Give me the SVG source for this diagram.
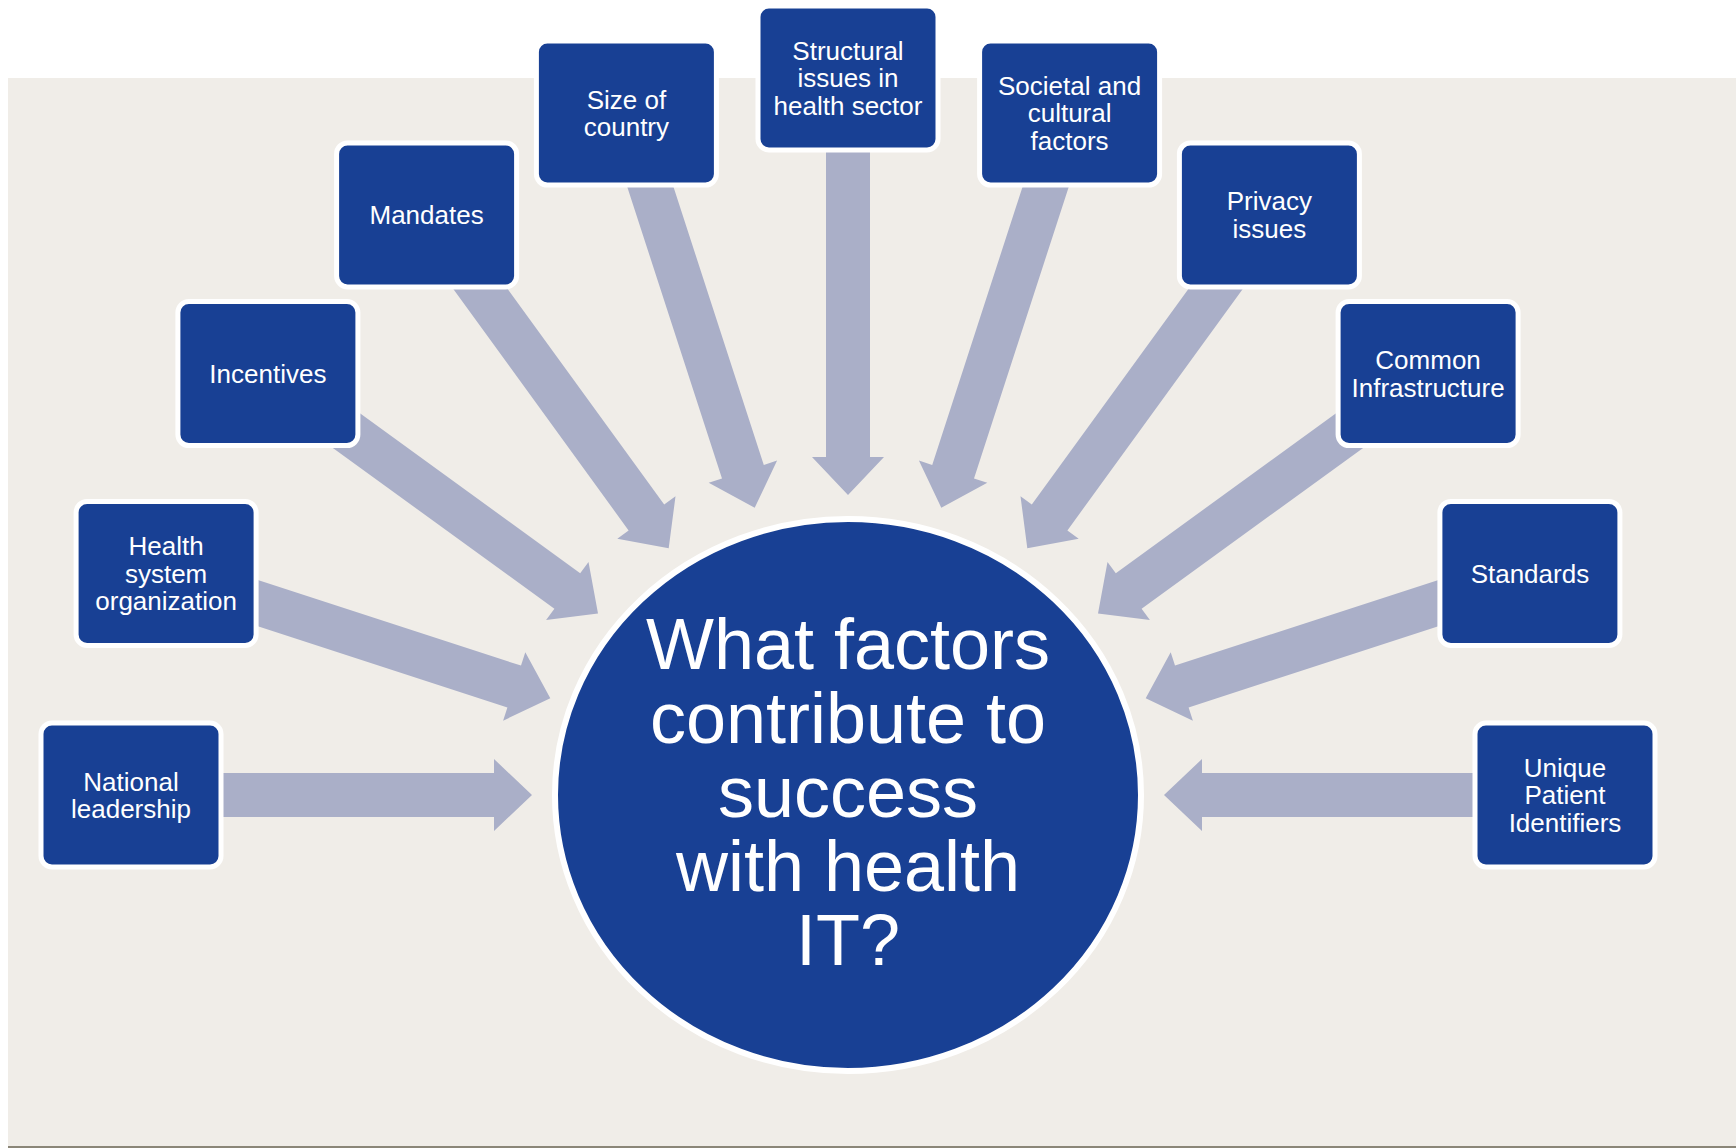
<svg xmlns="http://www.w3.org/2000/svg" width="1736" height="1148" viewBox="0 0 1736 1148">
<style>
.box{fill:#184094;stroke:#ffffff;stroke-width:5}
.lbl{font-family:"Liberation Sans",Arial,sans-serif;font-size:26px;fill:#ffffff;text-anchor:middle}
.big{font-family:"Liberation Sans",Arial,sans-serif;font-size:72px;fill:#ffffff;text-anchor:middle}
.arr{fill:#aaafc8}
</style>
<rect x="0" y="0" width="1736" height="1148" fill="#ffffff"/>
<rect x="8" y="78" width="1728" height="1068" fill="#f0ede8"/>
<rect x="8" y="1146" width="1728" height="2" fill="#8b8678"/>
<g id="connectors">
<polygon class="arr" points="131,773 494,773 494,759 532,795 494,831 494,817 131,817"/>
<polygon class="arr" points="172.9,552.5 521.0,665.6 525.3,652.3 550.3,698.3 503.1,720.7 507.4,707.4 159.3,594.3"/>
<polygon class="arr" points="280.8,355.8 580.2,573.2 588.5,561.9 598.0,613.4 546.1,620.1 554.4,608.8 255.0,391.4"/>
<polygon class="arr" points="444.4,202.0 664.2,504.6 675.5,496.3 668.7,548.3 617.3,538.7 628.6,530.4 408.8,227.8"/>
<polygon class="arr" points="647.3,106.3 763.8,464.9 777.1,460.6 754.7,507.8 708.7,482.8 722.0,478.5 605.5,119.9"/>
<polygon class="arr" points="870,78 870,457 884,457 848,495 812,457 826,457 826,78"/>
<polygon class="arr" points="1048.7,106.3 932.2,464.9 918.9,460.6 941.3,507.8 987.3,482.8 974.0,478.5 1090.5,119.9"/>
<polygon class="arr" points="1251.6,202.0 1031.8,504.6 1020.5,496.3 1027.3,548.3 1078.7,538.7 1067.4,530.4 1287.2,227.8"/>
<polygon class="arr" points="1415.2,355.8 1115.8,573.2 1107.5,561.9 1098.0,613.4 1149.9,620.1 1141.6,608.8 1441.0,391.4"/>
<polygon class="arr" points="1523.1,552.5 1175.0,665.6 1170.7,652.3 1145.7,698.3 1192.9,720.7 1188.6,707.4 1536.7,594.3"/>
<polygon class="arr" points="1565,817 1202,817 1202,831 1164,795 1202,759 1202,773 1565,773"/>
</g>
<g id="center">
<ellipse cx="848" cy="795" rx="293" ry="276" fill="#184094" stroke="#ffffff" stroke-width="6"/>
<text class="big"><tspan x="848" y="668.5">What factors</tspan><tspan x="848" y="742.7">contribute to</tspan><tspan x="848" y="816.9">success</tspan><tspan x="848" y="891.1">with health</tspan><tspan x="848" y="965.3">IT?</tspan></text>
</g>
<g id="national-leadership">
<rect class="box" x="41" y="723" width="180" height="144" rx="11"/>
<text class="lbl"><tspan x="131" y="790.5">National</tspan><tspan x="131" y="818.2">leadership</tspan></text>
</g>
<g id="health-system-organization">
<rect class="box" x="76.1" y="501.4" width="180" height="144" rx="11"/>
<text class="lbl"><tspan x="166.1" y="555">Health</tspan><tspan x="166.1" y="582.7">system</tspan><tspan x="166.1" y="610.4">organization</tspan></text>
</g>
<g id="incentives">
<rect class="box" x="177.9" y="301.6" width="180" height="144" rx="11"/>
<text class="lbl"><tspan x="267.9" y="382.9">Incentives</tspan></text>
</g>
<g id="mandates">
<rect class="box" x="336.6" y="142.9" width="180" height="144" rx="11"/>
<text class="lbl"><tspan x="426.6" y="224.2">Mandates</tspan></text>
</g>
<g id="size-of-country">
<rect class="box" x="536.4" y="41.1" width="180" height="144" rx="11"/>
<text class="lbl"><tspan x="626.4" y="108.6">Size of</tspan><tspan x="626.4" y="136.3">country</tspan></text>
</g>
<g id="structural-issues">
<rect class="box" x="758" y="6" width="180" height="144" rx="11"/>
<text class="lbl"><tspan x="848" y="59.6">Structural</tspan><tspan x="848" y="87.3">issues in</tspan><tspan x="848" y="115">health sector</tspan></text>
</g>
<g id="societal-cultural">
<rect class="box" x="979.6" y="41.1" width="180" height="144" rx="11"/>
<text class="lbl"><tspan x="1069.6" y="94.7">Societal and</tspan><tspan x="1069.6" y="122.4">cultural</tspan><tspan x="1069.6" y="150.1">factors</tspan></text>
</g>
<g id="privacy-issues">
<rect class="box" x="1179.4" y="142.9" width="180" height="144" rx="11"/>
<text class="lbl"><tspan x="1269.4" y="210.4">Privacy</tspan><tspan x="1269.4" y="238.1">issues</tspan></text>
</g>
<g id="common-infrastructure">
<rect class="box" x="1338.1" y="301.6" width="180" height="144" rx="11"/>
<text class="lbl"><tspan x="1428.1" y="369">Common</tspan><tspan x="1428.1" y="396.8">Infrastructure</tspan></text>
</g>
<g id="standards">
<rect class="box" x="1439.9" y="501.4" width="180" height="144" rx="11"/>
<text class="lbl"><tspan x="1529.9" y="582.7">Standards</tspan></text>
</g>
<g id="unique-patient-identifiers">
<rect class="box" x="1475" y="723" width="180" height="144" rx="11"/>
<text class="lbl"><tspan x="1565" y="776.6">Unique</tspan><tspan x="1565" y="804.3">Patient</tspan><tspan x="1565" y="832">Identifiers</tspan></text>
</g>
</svg>
